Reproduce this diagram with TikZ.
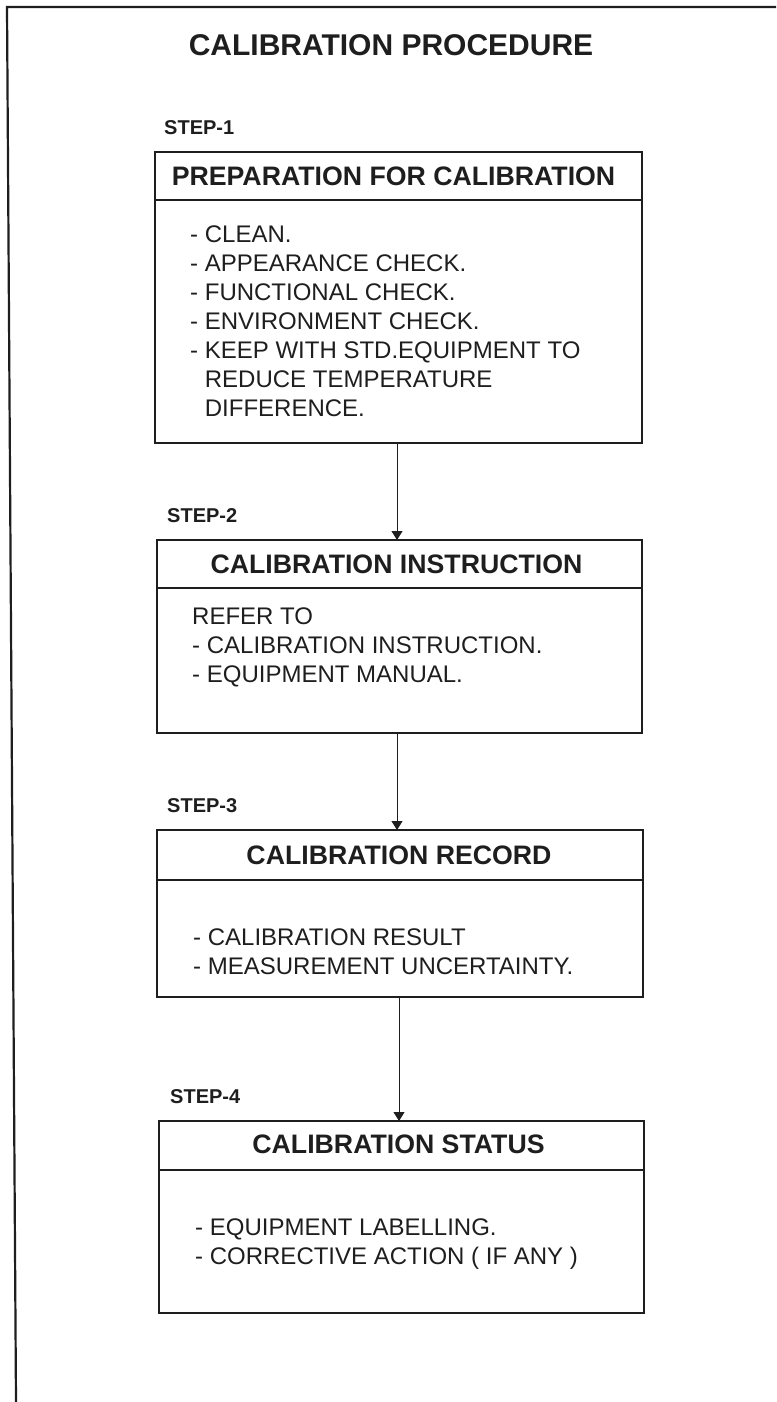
\documentclass[tikz,border=0pt]{standalone}
\usepackage{fontspec}
\setmainfont{Liberation Sans}
\usetikzlibrary{arrows.meta}
\definecolor{inkc}{HTML}{1E1E1E}
\begin{document}
\begin{tikzpicture}[x=1pt,y=-1pt,
  framebox/.style={draw=inkc, line width=1.6pt, inner sep=0pt, outer sep=0pt},
  divider/.style={draw=inkc, line width=1.4pt},
  titletext/.style={font=\fontsize{30}{36}\selectfont\bfseries, text=inkc, inner sep=0pt, anchor=base},
  steplabel/.style={font=\fontsize{20}{24}\selectfont\bfseries, text=inkc, inner sep=0pt, anchor=base west},
  headtext/.style={font=\fontsize{26.7}{32}\selectfont\bfseries, text=inkc, inner sep=0pt, anchor=base},
  bodytext/.style={font=\fontsize{24}{29}\selectfont, text=inkc, inner sep=0pt, anchor=base west, align=left},
  flow/.style={draw=inkc, line width=1pt, -{Triangle[width=11pt,length=9pt]}}
]
\useasboundingbox (0,0) rectangle (776,1402);
% outer frame
\draw[inkc, line width=2.2pt] (16,1402) -- (7,7) -- (776,7);

\node[titletext] (title) at (391,55.7) {CALIBRATION PROCEDURE};

% step 1 (body node anchored at the baseline of its last line)
\node[steplabel] (s1) at (164,135) {STEP-1};
\node[framebox, minimum width=487pt, minimum height=291pt] (b1) at (398.5,297.5) {};
\draw[divider] (b1.west |- 0,200) -- (b1.east |- 0,200);
\node[headtext] (h1) at (393.5,185) {PREPARATION FOR CALIBRATION};
\node[bodytext] (t1) at (190,416) {- CLEAN.\\- APPEARANCE CHECK.\\- FUNCTIONAL CHECK.\\- ENVIRONMENT CHECK.\\- KEEP WITH STD.EQUIPMENT TO\\\phantom{-\ }REDUCE TEMPERATURE\\\phantom{-\ }DIFFERENCE.};

% step 2
\node[steplabel] (s2) at (167,522) {STEP-2};
\node[framebox, minimum width=485pt, minimum height=193pt] (b2) at (399.5,636.5) {};
\draw[divider] (b2.west |- 0,588) -- (b2.east |- 0,588);
\node[headtext] (h2) at (396.5,573) {CALIBRATION INSTRUCTION};
\node[bodytext] (t2) at (192,682) {REFER TO\\- CALIBRATION INSTRUCTION.\\- EQUIPMENT MANUAL.};

% step 3
\node[steplabel] (s3) at (167,812) {STEP-3};
\node[framebox, minimum width=486pt, minimum height=167pt] (b3) at (400,913.5) {};
\draw[divider] (b3.west |- 0,880) -- (b3.east |- 0,880);
\node[headtext] (h3) at (399,864.5) {CALIBRATION RECORD};
\node[bodytext] (t3) at (193,974.5) {- CALIBRATION RESULT\\- MEASUREMENT UNCERTAINTY.};

% step 4
\node[steplabel] (s4) at (170,1103) {STEP-4};
\node[framebox, minimum width=485pt, minimum height=192pt] (b4) at (401.5,1217) {};
\draw[divider] (b4.west |- 0,1170) -- (b4.east |- 0,1170);
\node[headtext] (h4) at (398.5,1153.5) {CALIBRATION STATUS};
\node[bodytext] (t4) at (195,1264) {- EQUIPMENT LABELLING.\\- CORRECTIVE ACTION ( IF ANY )};

% connectors
\draw[flow] (b1.south -| 397,0) -- (b2.north -| 397,0);
\draw[flow] (b2.south -| 397,0) -- (b3.north -| 397,0);
\draw[flow] (b3.south -| 399,0) -- (b4.north -| 399,0);
\end{tikzpicture}
\end{document}
